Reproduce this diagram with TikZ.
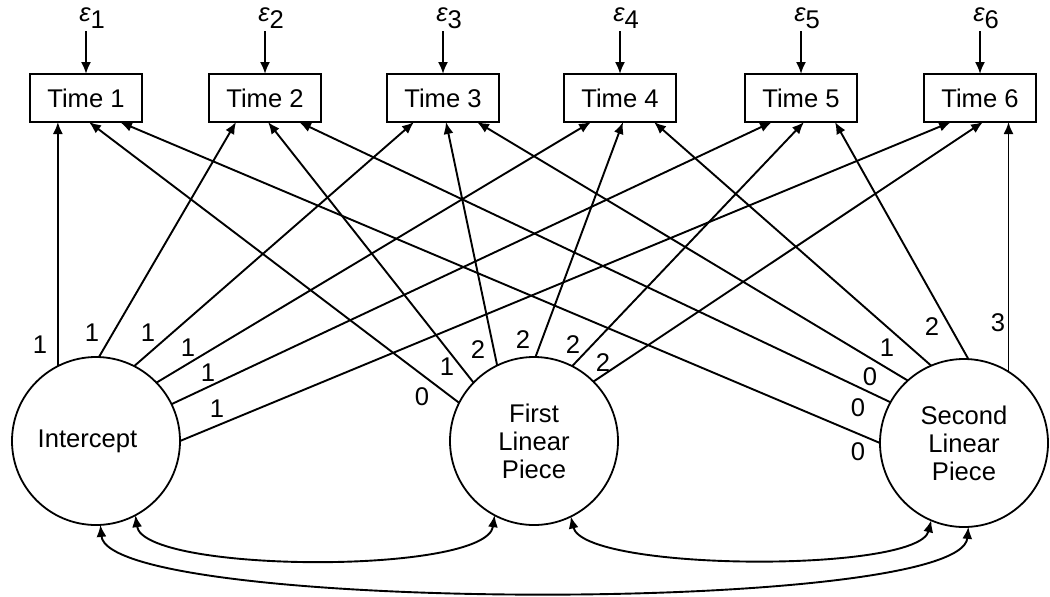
\documentclass[tikz,border=0pt]{standalone}
\usepackage{fontspec}
\setmainfont{Liberation Sans}
\usetikzlibrary{arrows.meta}
\begin{document}
\begin{tikzpicture}[x=0.5pt,y=-0.5pt,
  font=\fontsize{12.8}{14}\selectfont,
  tip/.tip={Latex[length=6pt,width=5pt]},
  timebox/.style={draw, line width=1.1pt, minimum width=56pt, minimum height=24pt,
    inner sep=0pt, outer sep=0pt},
  factor/.style={draw, circle, line width=0.9pt, minimum size=84pt, inner sep=0pt,
    outer sep=0pt, align=center},
  err/.style={inner sep=1pt},
  coef/.style={inner sep=0pt},
  load/.style={-tip, line width=0.95pt},
  cov/.style={tip-tip, line width=0.95pt}]

\useasboundingbox (0,0) rectangle (1050,596);

% observed measures
\node[timebox] (t1) at (86,98)  {Time 1};
\node[timebox] (t2) at (265,98) {Time 2};
\node[timebox] (t3) at (443,98) {Time 3};
\node[timebox] (t4) at (620,98) {Time 4};
\node[timebox] (t5) at (801,98) {Time 5};
\node[timebox] (t6) at (980,98) {Time 6};

% residual terms
\foreach \i/\x in {1/86,2/265,3/443,4/620,5/801,6/980}{
  \node[err, anchor=south] (e\i) at (\x+6,31) {{\itshape ε}\raisebox{-0.5ex}{\i}};
  \draw[load] (t\i.north |- e\i.south) -- (t\i.north);
}

% arrow targets on the lower edge of each box
\foreach \i in {1,...,6}{
  \path (t\i.south) ++(-29,0) coordinate (t\i a)
        (t\i.south) ++(3,0)   coordinate (t\i b)
        (t\i.south) ++(34,0)  coordinate (t\i c);
}

% growth factors
\node[factor] (ic) at (96,441)  {\hspace*{-8.5pt}Intercept};
\node[factor] (fp) at (534,441) {First\\Linear\\Piece};
\node[factor] (sp) at (964,443) {Second\\Linear\\Piece};

% intercept loadings
\draw[load] (ic.117) -- (ic.117 |- t1.south);
\draw[load] (ic.88)  -- (t2a);
\draw[load] (ic.63)  -- (t3a);
\draw[load] (ic.44)  -- (t4a);
\draw[load] (ic.26)  -- (t5a);
\draw[load] (ic.0)   -- (t6a);

% first linear piece loadings
\draw[load] (fp.153) -- (t1b);
\draw[load] (fp.136) -- (t2b);
\draw[load] (fp.116) -- (t3b);
\draw[load] (fp.89)  -- (t4b);
\draw[load] (fp.63)  -- (t5b);
\draw[load] (fp.45)  -- (t6b);

% second linear piece loadings
\draw[load] (sp.180) -- (t1c);
\draw[load] (sp.151) -- (t2c);
\draw[load] (sp.132) -- (t3c);
\draw[load] (sp.113) -- (t4c);
\draw[load] (sp.87)  -- (t5c);
\draw[load] (sp.58)  -- (sp.58 |- t6.south);

% loading values
\node[coef] (ci1) at (40,345)  {1};
\node[coef] (ci2) at (92,333)  {1};
\node[coef] (ci3) at (148,333) {1};
\node[coef] (ci4) at (188,348) {1};
\node[coef] (ci5) at (208,373) {1};
\node[coef] (ci6) at (217,409) {1};

\node[coef] (cf1) at (422,397) {0};
\node[coef] (cf2) at (447,367) {1};
\node[coef] (cf3) at (478,350) {2};
\node[coef] (cf4) at (523,340) {2};
\node[coef] (cf5) at (573,345) {2};
\node[coef] (cf6) at (603,363) {2};

\node[coef] (cs1) at (858,452) {0};
\node[coef] (cs2) at (858,408) {0};
\node[coef] (cs3) at (870,377) {0};
\node[coef] (cs4) at (887,348) {1};
\node[coef] (cs5) at (932,327) {2};
\node[coef] (cs6) at (998,323) {3};

% factor covariances
\draw[cov] (ic.-62) .. controls +(8,58) and +(-8,60) .. (fp.-118);
\draw[cov] (fp.-64) .. controls +(13,55) and +(-13,53) .. (sp.-113);
\draw[cov] (ic.-87) .. controls +(8,88) and +(-8,88) .. (sp.-87);
\end{tikzpicture}
\end{document}
